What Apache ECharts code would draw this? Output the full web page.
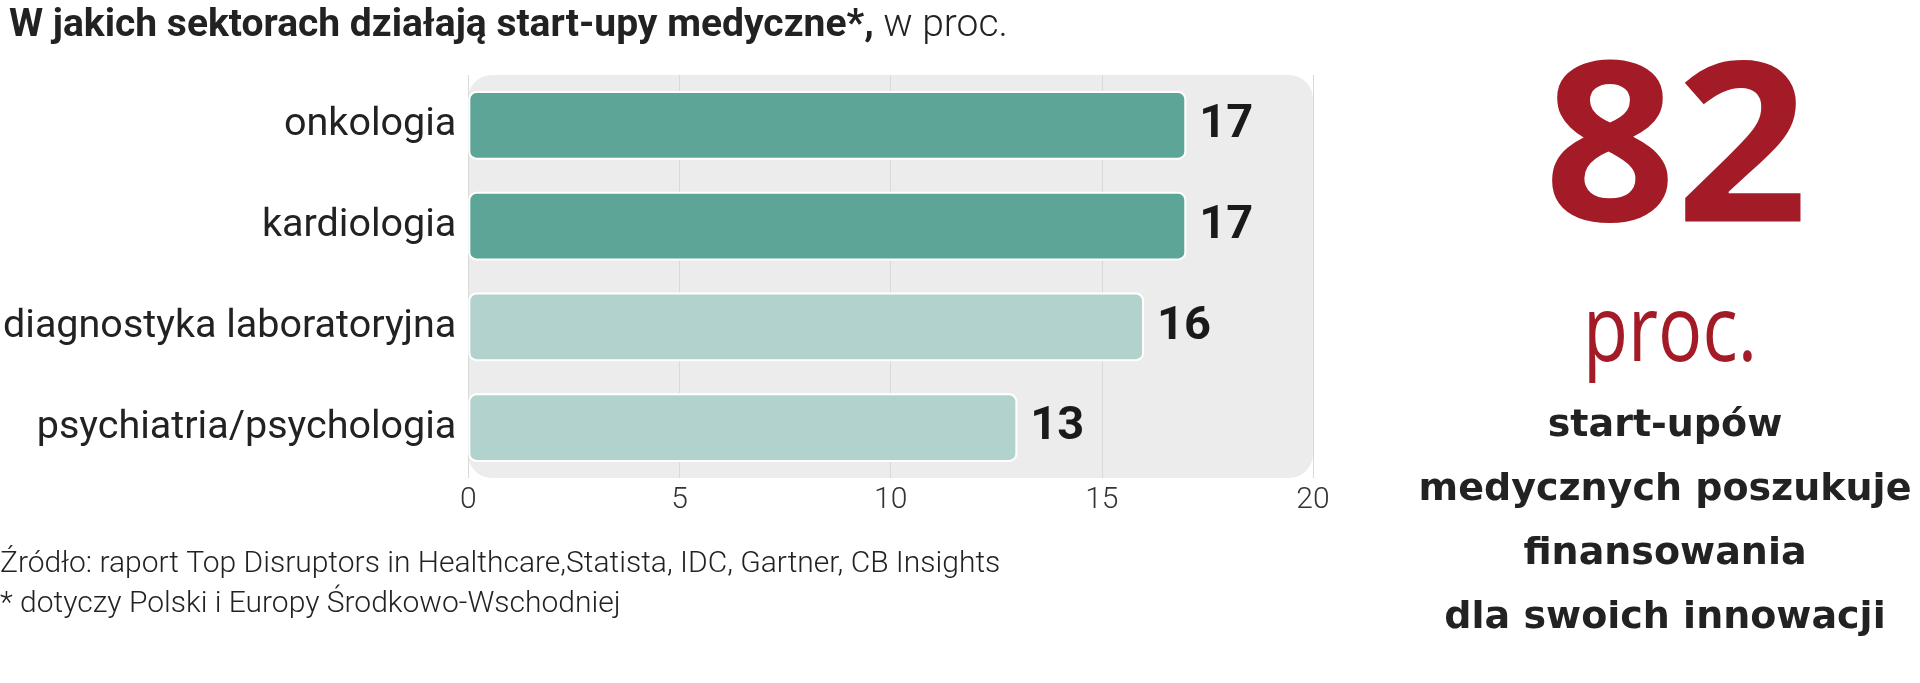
<!DOCTYPE html>
<html>
<head>
<meta charset="utf-8">
<script src="https://cdn.jsdelivr.net/npm/echarts@6/dist/echarts.min.js"></script>
<style>
html,body{margin:0;padding:0;background:#fff;}
#chart{width:1920px;height:683px;}
</style>
</head>
<body>
<div id="chart"></div>
<script>
// ---- data ----
const categories = ['onkologia', 'kardiologia', 'diagnostyka laboratoryjna', 'psychiatria/psychologia'];
const values = [17, 17, 16, 13];
const xTicks = [0, 5, 10, 15, 20];
const titleBold = 'W jakich sektorach działają start-upy medyczne*,';
const titleLight = ' w proc.';
const sourceLines = [
  'Źródło: raport Top Disruptors in Healthcare,Statista, IDC, Gartner, CB Insights',
  '* dotyczy Polski i Europy Środkowo-Wschodniej'
];
const bigNumber = '82';
const bigUnit = 'proc.';
const sideText = ['start-upów', 'medycznych poszukuje', 'finansowania', 'dla swoich innowacji'];

// ---- styles ----
const barColors = ['#5ca597', '#5ca597', '#b2d3cd', '#b2d3cd'];
const red = '#a31b27';
const ink = '#222222';
const G = { left: 468, right: 607, top: 75, bottom: 205 };

const chart = echarts.init(document.getElementById('chart'));
const W = 1920, H = 683;

chart.setOption({
  animation: false,
  backgroundColor: '#ffffff',
  title: {
    left: 4, top: 2,
    text: '{b|' + titleBold + '}{l|' + titleLight + '}',
    textStyle: {
      rich: {
        b: { fontFamily: 'Roboto', fontWeight: 'bold', fontSize: 39, color: ink },
        l: { fontFamily: 'Roboto', fontWeight: 300, fontSize: 39, color: ink }
      }
    }
  },
  grid: { left: G.left, right: G.right, top: G.top, bottom: G.bottom, containLabel: false },
  xAxis: {
    type: 'value', min: xTicks[0], max: xTicks[xTicks.length - 1], interval: 5,
    axisLine: { show: false }, axisTick: { show: false },
    splitLine: { show: true, lineStyle: { color: '#d9d9d9', width: 1 } },
    axisLabel: { fontFamily: 'Roboto', fontWeight: 300, fontSize: 30, color: '#333', margin: 7 }
  },
  yAxis: {
    type: 'category', data: categories, inverse: true,
    axisLine: { show: false }, axisTick: { show: false },
    axisLabel: { fontFamily: 'Roboto', fontSize: 39.5, color: ink, margin: 12 }
  },
  series: [{
    type: 'bar',
    data: values.map((v, i) => ({ value: v, itemStyle: { color: barColors[i] } })),
    barWidth: '68%',
    itemStyle: { borderColor: '#ffffff', borderWidth: 2, borderRadius: 7 },
    label: {
      show: true, position: 'right', distance: 13,
      fontFamily: 'Roboto', fontWeight: 'bold', fontSize: 47, color: '#1a1a1a'
    },
    z: 2
  }],
  graphic: [
    {
      type: 'rect', z: -10, silent: true,
      shape: { x: G.left, y: G.top, width: W - G.left - G.right, height: H - G.top - G.bottom, r: 24 },
      style: { fill: '#ececec' }
    },
    {
      type: 'text', x: 0, y: 564,
      style: { text: sourceLines[0], fontFamily: 'Roboto', fontWeight: 300, fontSize: 30, fill: ink, verticalAlign: 'middle' }
    },
    {
      type: 'text', x: 0, y: 604,
      style: { text: sourceLines[1], fontFamily: 'Roboto', fontWeight: 300, fontSize: 30, fill: ink, verticalAlign: 'middle' }
    },
    {
      type: 'text', x: 1676, y: 158, scaleX: 1.04,
      style: { text: bigNumber, fontFamily: 'Open Sans', fontWeight: 'bold', fontSize: 222, fill: red, align: 'center', verticalAlign: 'middle' }
    },
    {
      type: 'text', x: 1670, y: 335, scaleX: 0.8,
      style: { text: bigUnit, fontFamily: 'Open Sans', fontWeight: 'normal', fontSize: 92, fill: red, align: 'center', verticalAlign: 'middle' }
    },
    ...sideText.map((t, i) => ({
      type: 'text', x: 1665, y: [426, 490, 554, 618][i],
      style: { text: t, fontFamily: 'DejaVu Sans', fontWeight: 'bold', fontSize: 38, fill: ink, align: 'center', verticalAlign: 'middle' }
    }))
  ]
});
</script>
</body>
</html>
